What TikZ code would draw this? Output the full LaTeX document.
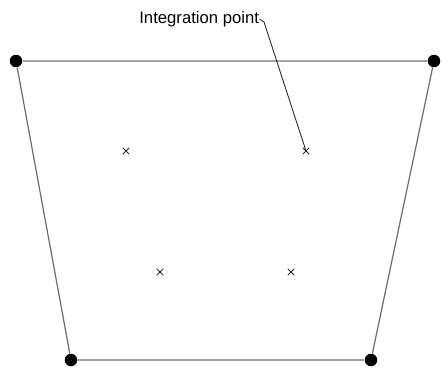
\documentclass[tikz,border=0pt]{standalone}
\usepackage{fontspec}
\setmainfont{Liberation Sans}
\usetikzlibrary{shapes.misc}
\definecolor{edge}{RGB}{110,110,110}
\definecolor{ink}{RGB}{40,40,40}
\tikzset{
  corner/.style={circle,fill=black,inner sep=0pt,minimum size=2.5mm},
  gauss/.style={cross out,draw=ink,line width=0.45pt,inner sep=0pt,minimum size=1.1mm},
  side/.style={draw=edge,line width=0.7pt},
  leader/.style={draw=ink,line width=0.5pt},
  tag/.style={font=\fontsize{9.5}{11}\selectfont,inner sep=0pt,anchor=west},
}
\begin{document}
\begin{tikzpicture}[x=0.02cm,y=0.02cm]
  \useasboundingbox (0,0) rectangle (442,369);
  % quadrilateral element
  \node[corner] (tl) at (16,308) {};
  \node[corner] (tr) at (434,308) {};
  \node[corner] (br) at (371,9) {};
  \node[corner] (bl) at (71,9) {};
  \draw[side] (tl) -- (tr) -- (br) -- (bl) -- (tl);
  % integration points
  \node[gauss] (g1) at (126,218) {};
  \node[gauss] (g2) at (306,218) {};
  \node[gauss] (g3) at (160,97) {};
  \node[gauss] (g4) at (291,97) {};
  % label
  \node[tag] (lbl) at (139,350) {Integration point};
  \coordinate (kink) at (264,347);
  \draw[leader] (lbl.east) -- (kink) -- (g2.center);
\end{tikzpicture}
\end{document}
